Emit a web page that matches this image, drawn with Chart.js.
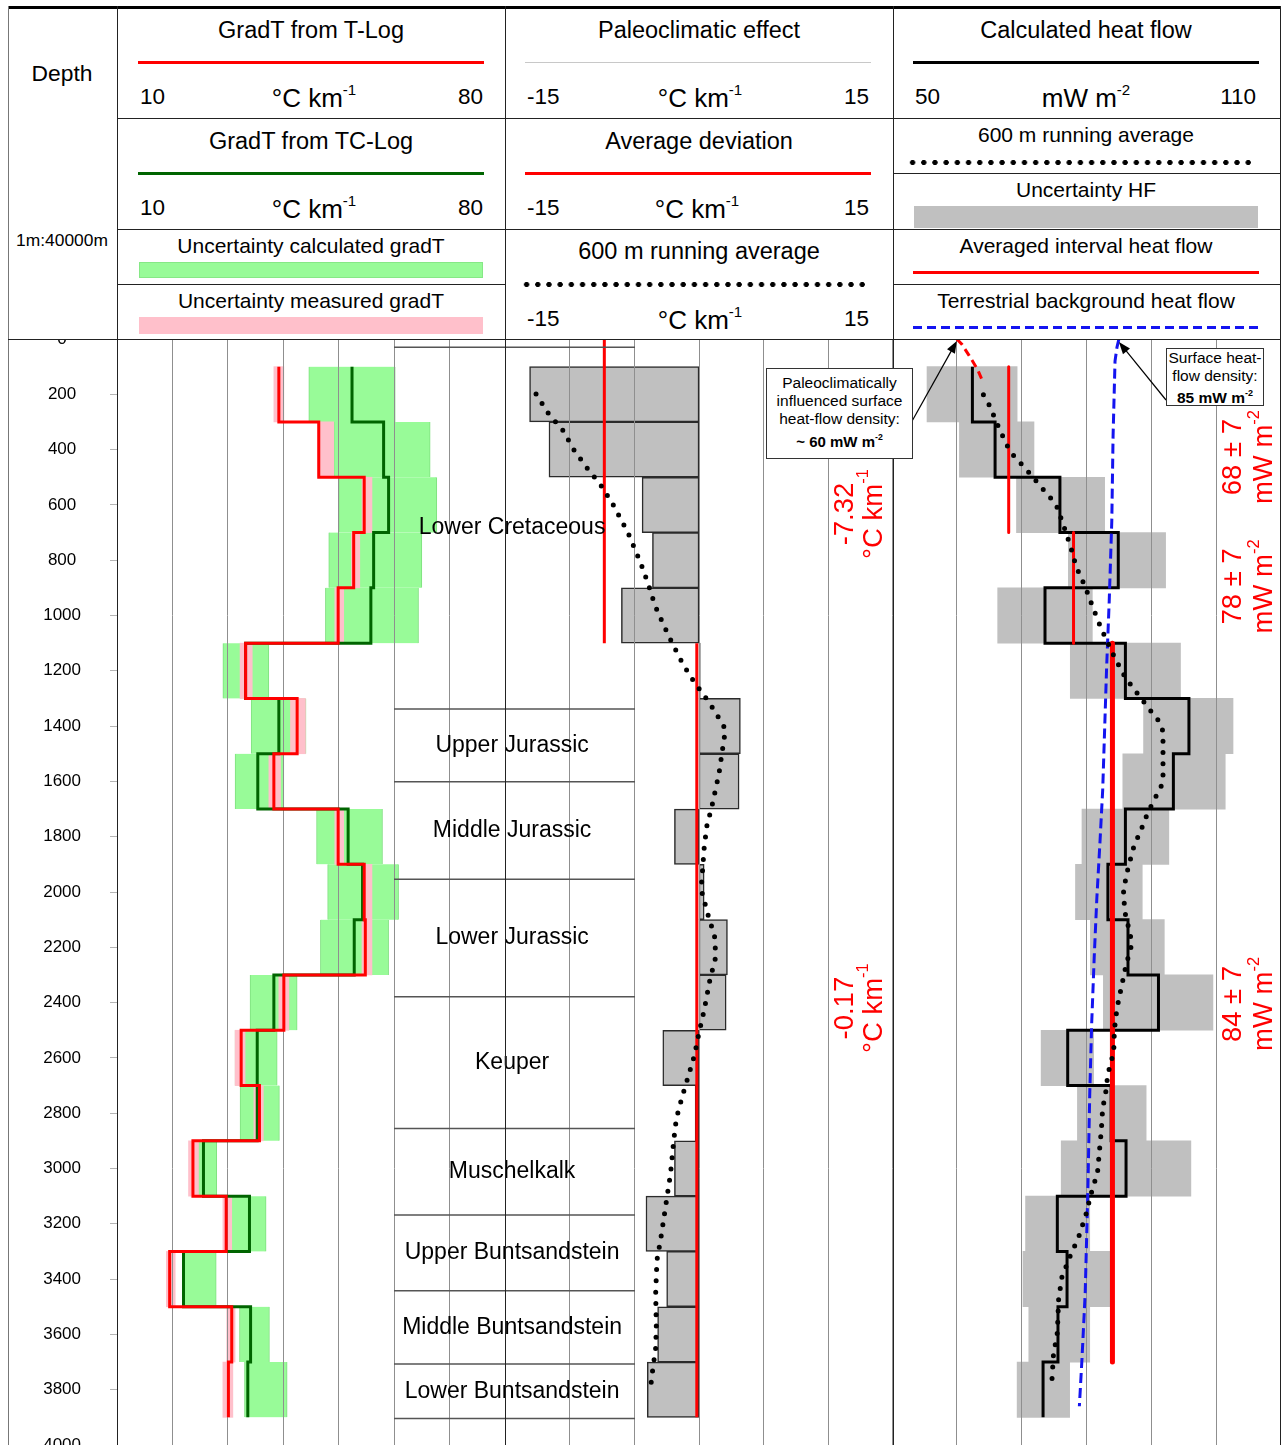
<!DOCTYPE html>
<html lang="en">
<head>
<meta charset="utf-8">
<title>Geothermal gradient and heat-flow log</title>
<script src="https://cdn.jsdelivr.net/npm/chart.js@4.4.1/dist/chart.umd.min.js"></script>
<style>
  html, body { margin: 0; padding: 0; background: #fff; overflow: hidden; }
  body { font-family: "Liberation Sans", Arial, Helvetica, sans-serif; color: #000; }
  #page { position: relative; width: 1282px; height: 1445px; overflow: hidden; background: #fff; }
  #page canvas { position: absolute; }
  .lay-bars { z-index: 1; }
  .lay-lines { z-index: 2; }
  .lay-strata { z-index: 3; }
  #head { position: absolute; left: 0; top: 0; width: 1282px; height: 339px; background: #fff; z-index: 4; }
  .rule { position: absolute; z-index: 5; }
  .txt { position: absolute; white-space: nowrap; }
  .sw { position: absolute; }
  .note { position: absolute; z-index: 6; background: #fff; border: 1px solid #333; box-sizing: border-box;
          text-align: center; white-space: nowrap; overflow: visible; }
  sup { font-size: 0.58em; line-height: 0; vertical-align: 0; position: relative; top: -0.8em; }
</style>
</head>
<body>
<div id="page">
  <canvas id="gradBars"   class="lay-bars"   width="497" height="1130" style="left:8px;top:327px"></canvas>
  <canvas id="gradLines"  class="lay-lines"  width="497" height="1186" style="left:8px;top:299px"></canvas>
  <canvas id="paleoBars"  class="lay-bars"   width="388" height="1130" style="left:505px;top:327px"></canvas>
  <canvas id="paleoLines" class="lay-lines"  width="388" height="1130" style="left:505px;top:327px"></canvas>
  <canvas id="heatBars"   class="lay-bars"   width="389" height="1130" style="left:892px;top:327px"></canvas>
  <canvas id="heatLines"  class="lay-lines"  width="389" height="1130" style="left:892px;top:327px"></canvas>
  <canvas id="strata"     class="lay-strata" width="241" height="1130" style="left:394px;top:327px"></canvas>
  <div id="head"></div>
  <div class="note" id="notePaleo"   style="left:766px;top:368px;width:147px;height:91px;"></div>
  <div class="note" id="noteSurface" style="left:1166px;top:348px;width:98px;height:58px;"></div>
</div>
<script>
// ---------------------------------------------------------------------------
// Depth intervals of the log (m)
const intervalTop  = [100, 300, 500, 700, 900, 1100, 1300, 1500, 1700, 1900, 2100, 2300, 2500, 2700, 2900, 3100, 3300, 3500, 3700];
const intervalBase = [300, 500, 700, 900, 1100, 1300, 1500, 1700, 1900, 2100, 2300, 2500, 2700, 2900, 3100, 3300, 3500, 3700, 3900];

// Temperature gradient from the T-log and its uncertainty (°C/km)
const gradTLog    = [39.2, 46.4, 54.6, 52.7, 49.9, 33.2, 42.5, 38.3, 49.9, 54.6, 54.8, 40.1, 32.4, 35.7, 23.7, 29.7, 19.5, 30.7, 30.1];
const gradTLogLo  = [38.3, 46.2, 54.2, 52.3, 49.3, 32.2, 41.3, 37.4, 49.3, 54.2, 54.2, 39.2, 31.3, 34.7, 22.9, 29.1, 18.9, 29.8, 29.1];
const gradTLogHi  = [40.1, 49.1, 56.0, 53.8, 50.9, 34.4, 44.0, 39.5, 50.9, 56.0, 56.0, 41.0, 33.1, 36.4, 24.7, 30.7, 20.5, 31.3, 30.9];

// Temperature gradient calculated from the TC-log and its uncertainty (°C/km)
const gradTCalc   = [52.4, 58.1, 59.0, 56.3, 55.8, 33.2, 39.2, 35.4, 51.7, 54.3, 52.8, 38.3, 35.3, 35.3, 25.6, 33.9, 22.0, 34.1, 33.6];
const gradTCalcLo = [44.6, 49.1, 50.0, 48.2, 47.6, 29.1, 34.2, 31.3, 46.0, 48.0, 46.7, 34.0, 31.3, 32.2, 24.7, 30.1, 22.0, 32.1, 33.0];
const gradTCalcHi = [60.2, 66.5, 67.7, 65.0, 64.4, 37.4, 44.1, 40.1, 57.9, 60.8, 59.0, 42.5, 38.9, 39.3, 28.0, 36.9, 27.9, 37.5, 40.7];

// Paleoclimatic effect per interval (°C/km)
const paleoEffect = [-13.1, -11.6, -4.4, -3.6, -6.0, 0.1, 3.2, 3.1, -1.9, 0.4, 2.2, 2.1, -2.8, -0.3, -1.9, -4.1, -2.5, -3.2, -4.0];

// Average deviation over two depth sections (°C/km)
const avgDeviation = [-7.32, -0.17];
const avgDevTop    = [0, 1100];
const avgDevBase   = [1100, 3900];

// 600 m running average of the paleoclimatic effect
const paleoAvgDepth = [199, 266, 332, 399, 464, 528, 594, 700, 811, 890, 964, 1038, 1107, 1179, 1246, 1279, 1344, 1412, 1490, 1571,
                       1689, 1763, 1841, 1969, 2005, 2083, 2159, 2234, 2316, 2427, 2509, 2590, 2662, 2740, 2819, 2897, 3018, 3096,
                       3174, 3252, 3331, 3451, 3572, 3650, 3735, 3775];
const paleoAvgValue = [-12.6, -11.7, -10.5, -9.7, -8.7, -7.6, -6.7, -5.5, -4.5, -3.9, -3.4, -2.7, -2.0, -1.2, -0.3, 0.25, 1.2, 2.05, 1.8, 1.55,
                       1.0, 0.6, 0.4, 0.2, 0.25, 0.7, 1.2, 1.3, 0.85, 0.4, 0.0, -0.35, -0.8, -1.3, -1.75, -1.95, -2.2, -2.45,
                       -2.7, -2.95, -3.25, -3.35, -3.3, -3.35, -3.6, -3.7];

// Calculated heat flow per interval and its uncertainty (mW/m²)
const heatFlow   = [62.4, 65.9, 75.9, 84.9, 73.6, 86.0, 95.8, 93.4, 86.0, 83.3, 86.4, 91.1, 77.1, 83.8, 86.1, 75.5, 77.0, 75.6, 73.3];
const heatFlowLo = [55.4, 60.4, 69.2, 77.2, 66.3, 77.5, 88.8, 85.6, 79.3, 78.3, 80.6, 82.6, 73.0, 78.6, 76.1, 70.6, 70.2, 71.1, 69.3];
const heatFlowHi = [69.3, 71.9, 82.8, 92.2, 80.9, 94.5, 102.6, 101.4, 92.7, 88.6, 92.0, 99.5, 81.1, 89.2, 96.1, 80.5, 83.9, 80.5, 77.4];

// 600 m running average of the heat flow
const heatAvgDepth = [202, 239, 311, 383, 417, 477, 538, 598, 670, 747, 823, 896, 972, 1049, 1089, 1155, 1225, 1290, 1354, 1386,
                      1420, 1498, 1580, 1619, 1655, 1692, 1728, 1764, 1836, 1914, 1993, 2071, 2149, 2188, 2264, 2342, 2421, 2499,
                      2578, 2658, 2738, 2779, 2858, 2935, 3014, 3053, 3092, 3168, 3247, 3321, 3394, 3473, 3594, 3675, 3753, 3793];
const heatAvgValue = [64.1, 65.0, 66.3, 67.7, 68.6, 70.9, 73.1, 75.3, 76.4, 77.5, 78.4, 79.8, 81.0, 82.3, 83.1, 84.4, 86.0, 88.1, 90.2, 91.3,
                      91.8, 91.8, 91.8, 91.5, 90.7, 89.9, 89.2, 88.6, 87.3, 86.4, 85.7, 85.9, 86.7, 87.0, 86.1, 85.4, 84.7, 84.3,
                      84.2, 83.3, 82.9, 82.5, 82.3, 82.0, 81.7, 81.2, 80.7, 79.9, 78.8, 77.4, 76.2, 75.7, 75.5, 74.9, 74.7, 74.6];

// Averaged interval heat flow (mW/m²) with uncertainty and depth range
const hfAvg     = [68, 78, 84];
const hfAvgUnc  = [7, 7, 7];
const hfAvgTop  = [100, 700, 1100];
const hfAvgBase = [700, 1100, 3700];

// Surface heat-flow densities: paleoclimatically influenced, terrestrial background (mW/m²)
const surfaceHeatFlow = [60, 85];

// Terrestrial background heat flow with depth
const bgDepth = [0, 30, 80, 350, 660, 950, 1190, 1630, 1810, 2020, 2230, 2475, 2730, 3090, 3450, 3690, 3860];
const bgValue = [85.0, 84.7, 84.4, 84.1, 83.9, 83.5, 83.1, 82.5, 82.1, 81.6, 81.2, 80.8, 80.5, 80.2, 79.8, 79.3, 78.9];

// Paleoclimatically influenced heat flow near the surface
const paleoSurfDepth = [0, 20, 60, 110, 160];
const paleoSurfValue = [60.0, 60.8, 61.9, 63.2, 64.1];

// Stratigraphy
const strataNames = ['Lower Cretaceous', 'Upper Jurassic', 'Middle Jurassic', 'Lower Jurassic', 'Keuper',
                     'Muschelkalk', 'Upper Buntsandstein', 'Middle Buntsandstein', 'Lower Buntsandstein'];
const strataTop  = [30, 1338, 1601, 1954, 2379, 2855, 3168, 3442, 3707];
const strataBase = [1338, 1601, 1954, 2379, 2855, 3168, 3442, 3707, 3904];

// ---------------------------------------------------------------------------
const FONT = '"Liberation Sans", Arial, Helvetica, sans-serif';
Chart.defaults.font.family = FONT;
Chart.defaults.color = '#000';

const midDepth  = i => (intervalTop[i] + intervalBase[i]) / 2;
const pairs     = (vals, depths) => vals.map((v, i) => ({ x: v, y: depths[i] }));
const stepLine  = vals => vals.flatMap((v, i) => [{ x: v, y: intervalTop[i] }, { x: v, y: intervalBase[i] }]);
const rangeBars = (lo, hi) => lo.map((l, i) => ({ x: [l, hi[i]], y: midDepth(i) }));

const PAD_V = 12;      // vertical padding of plain tracks
const PAD_AXIS = 40;   // vertical padding of the track carrying the depth labels

function depthScale(extra) {
  return Object.assign({
    type: 'linear', min: 0, max: 4000, reverse: true, offset: false, display: false,
    ticks: { stepSize: 200 }, grid: { offset: false }
  }, extra || {});
}

function barChart(id, xMin, xMax, datasets, padLeft) {
  return new Chart(document.getElementById(id), {
    type: 'bar',
    data: { datasets },
    options: {
      responsive: false, animation: false, devicePixelRatio: 1, indexAxis: 'y',
      layout: { padding: { top: PAD_V, bottom: PAD_V, left: padLeft || 0, right: 0 } },
      plugins: { legend: { display: false }, tooltip: { enabled: false } },
      scales: {
        x: { type: 'linear', min: xMin, max: xMax, display: false },
        y: depthScale()
      }
    }
  });
}

function lineChart(id, xMin, xMax, xStep, datasets, plugins, yAxis, padV) {
  const pv = padV || PAD_V;
  return new Chart(document.getElementById(id), {
    type: 'scatter',
    data: { datasets },
    options: {
      responsive: false, animation: false, devicePixelRatio: 1,
      layout: { padding: { top: pv, bottom: pv, left: 0, right: 0 } },
      plugins: { legend: { display: false }, tooltip: { enabled: false } },
      elements: { point: { radius: 0, hoverRadius: 0 }, line: { tension: 0 } },
      scales: {
        x: {
          type: 'linear', position: 'bottom', min: xMin, max: xMax,
          ticks: { display: false, stepSize: xStep },
          grid: { color: '#8f8f8f', lineWidth: 1, drawTicks: false },
          border: { display: false }
        },
        y: yAxis || depthScale()
      }
    },
    plugins: plugins || []
  });
}

const bars = (data, color, extra) => Object.assign({
  data, backgroundColor: color, grouped: false, categoryPercentage: 1, barPercentage: 1,
  borderWidth: 0, borderSkipped: false
}, extra || {});

const line = (data, color, width, extra) => Object.assign({
  data, showLine: true, borderColor: color, backgroundColor: color, borderWidth: width,
  pointRadius: 0, fill: false, borderJoinStyle: 'miter'
}, extra || {});

const dots = (data, extra) => line(data, '#000', 5, Object.assign({
  borderDash: [0, 11.3], borderCapStyle: 'round', borderJoinStyle: 'round'
}, extra || {}));

// Rotated multi-line text; each line is a list of parts, a part may be superscript
function drawRotatedBlock(ctx, cx, cy, lines, size, gap, color) {
  ctx.save();
  ctx.translate(cx, cy);
  ctx.rotate(-Math.PI / 2);
  ctx.fillStyle = color;
  ctx.textBaseline = 'middle';
  ctx.textAlign = 'left';
  const n = lines.length;
  lines.forEach((parts, k) => {
    const off = (k - (n - 1) / 2) * gap;
    let w = 0;
    const widths = parts.map(p => {
      ctx.font = `${p.sup ? size * 0.6 : size}px ${FONT}`;
      const pw = ctx.measureText(p.t).width;
      w += pw;
      return pw;
    });
    let xx = -w / 2;
    parts.forEach((p, j) => {
      ctx.font = `${p.sup ? size * 0.6 : size}px ${FONT}`;
      ctx.fillText(p.t, xx, off - (p.sup ? size * 0.38 : 0));
      xx += widths[j];
    });
  });
  ctx.restore();
}

function arrow(ctx, x0, y0, x1, y1) {
  const a = Math.atan2(y1 - y0, x1 - x0), L = 12, W = 4.5;
  ctx.save();
  ctx.strokeStyle = '#000'; ctx.fillStyle = '#000'; ctx.lineWidth = 1.2;
  ctx.beginPath();
  ctx.moveTo(x0, y0);
  ctx.lineTo(x1 - L * 0.8 * Math.cos(a), y1 - L * 0.8 * Math.sin(a));
  ctx.stroke();
  ctx.beginPath();
  ctx.moveTo(x1, y1);
  ctx.lineTo(x1 - L * Math.cos(a) + W * Math.sin(a), y1 - L * Math.sin(a) - W * Math.cos(a));
  ctx.lineTo(x1 - L * Math.cos(a) - W * Math.sin(a), y1 - L * Math.sin(a) + W * Math.cos(a));
  ctx.closePath();
  ctx.fill();
  ctx.restore();
}

// ---------------------------------------------------------------------------
// Track 1: temperature gradients
barChart('gradBars', 10, 80, [
  bars(rangeBars(gradTCalcLo, gradTCalcHi), '#98fb98', {
    order: 2, borderColor: '#7fe07f', borderWidth: { left: 1, right: 1, top: 0, bottom: 0 }
  }),
  bars(rangeBars(gradTLogLo, gradTLogHi), '#ffc0cb', { order: 1 })
], 109);

lineChart('gradLines', 10, 80, 10, [
  line(stepLine(gradTCalc), '#006400', 3, { order: 2 }),
  line(stepLine(gradTLog), '#ff0000', 3, { order: 1 })
], [], depthScale({
  display: true, position: 'left',
  ticks: { stepSize: 200, autoSkip: false, font: { size: 17 }, color: '#000', padding: 29,
           crossAlign: 'center', callback: v => String(v) },
  grid: { drawOnChartArea: false, drawTicks: true, tickLength: 7, color: '#b5b5b5', offset: false },
  border: { display: false },
  afterFit: s => { s.width = 109; }
}), PAD_AXIS);

// Track 2: paleoclimatic effect
barChart('paleoBars', -15, 15, [
  bars(paleoEffect.map((v, i) => ({ x: [0, v], y: midDepth(i) })), '#c0c0c0', {
    borderColor: '#2b2b2b', borderWidth: 1.5
  })
]);

const paleoLabels = {
  id: 'paleoLabels',
  afterDatasetsDraw(chart) {
    const { ctx, scales: { x, y } } = chart;
    const labelDepth = [633, 2420];
    avgDeviation.forEach((v, i) => {
      drawRotatedBlock(ctx, x.getPixelForValue(12.45), y.getPixelForValue(labelDepth[i]),
        [[{ t: v.toFixed(2) }], [{ t: '°C km' }, { t: '-1', sup: true }]], 27.5, 28.5, '#ff0000');
    });
  }
};

lineChart('paleoLines', -15, 15, 5, [
  ...avgDeviation.map((v, i) => line([{ x: v, y: avgDevTop[i] }, { x: v, y: avgDevBase[i] }], '#ff0000', 3, { order: 2 })),
  dots(pairs(paleoAvgValue, paleoAvgDepth), { order: 1 })
], [paleoLabels]);

// Track 3: heat flow
barChart('heatBars', 50, 110, [
  bars(rangeBars(heatFlowLo, heatFlowHi), '#c0c0c0')
]);

const heatLabels = {
  id: 'heatLabels',
  afterDatasetsDraw(chart) {
    const { ctx, scales: { x, y } } = chart;
    const labelDepth = [427, 895, 2405];
    hfAvg.forEach((v, i) => {
      drawRotatedBlock(ctx, x.getPixelForValue(105.1), y.getPixelForValue(labelDepth[i]),
        [[{ t: `${v} ± ${hfAvgUnc[i]}` }], [{ t: 'mW m' }, { t: '-2', sup: true }]], 27.5, 31, '#ff0000');
    });
    // arrows from the two notes to the surface values
    const ox = chart.canvas.offsetLeft, oy = chart.canvas.offsetTop;
    arrow(ctx, 911 - ox, 423 - oy, x.getPixelForValue(surfaceHeatFlow[0]), y.getPixelForValue(0) + 2);
    arrow(ctx, 1166 - ox, 400 - oy, x.getPixelForValue(surfaceHeatFlow[1]), y.getPixelForValue(0) + 3);
  }
};

lineChart('heatLines', 50, 110, 10, [
  line(stepLine(heatFlow), '#000', 3, { order: 5 }),
  ...hfAvg.map((v, i) => line([{ x: v, y: hfAvgTop[i] }, { x: v, y: hfAvgBase[i] }], '#ff0000',
      i === hfAvg.length - 1 ? 5 : 3, { order: 4, borderCapStyle: 'round' })),
  line(pairs(bgValue, bgDepth), '#1414f0', 3, { order: 3, borderDash: [10, 5] }),
  line(pairs(paleoSurfValue, paleoSurfDepth), '#ff0000', 3, { order: 2, borderDash: [8, 5] }),
  dots(pairs(heatAvgValue, heatAvgDepth), { order: 1 })
], [heatLabels]);

// Stratigraphic column
const strataLabels = {
  id: 'strataLabels',
  afterDatasetsDraw(chart) {
    const { ctx, scales: { x, y } } = chart;
    ctx.save();
    ctx.fillStyle = '#000';
    ctx.font = `23px ${FONT}`;
    ctx.textAlign = 'center';
    ctx.textBaseline = 'middle';
    strataNames.forEach((name, i) => {
      ctx.fillText(name, x.getPixelForValue(0.49), y.getPixelForValue((strataTop[i] + strataBase[i]) / 2));
    });
    ctx.restore();
  }
};

new Chart(document.getElementById('strata'), {
  type: 'scatter',
  data: {
    datasets: [...strataTop, strataBase[strataBase.length - 1]].map(b =>
      line([{ x: 0, y: b }, { x: 1, y: b }], '#555', 1.5))
  },
  options: {
    responsive: false, animation: false, devicePixelRatio: 1,
    layout: { padding: { top: PAD_V, bottom: PAD_V, left: 0, right: 0 } },
    plugins: { legend: { display: false }, tooltip: { enabled: false } },
    scales: { x: { type: 'linear', min: 0, max: 1, display: false }, y: depthScale() }
  },
  plugins: [strataLabels]
});

// ---------------------------------------------------------------------------
// Header with track legends
const page = document.getElementById('page');
const head = document.getElementById('head');

function txt(parent, html, x, cy, size, align) {
  const d = document.createElement('div');
  d.className = 'txt';
  d.innerHTML = html;
  d.style.fontSize = size + 'px';
  d.style.lineHeight = Math.round(size * 1.2) + 'px';
  d.style.top = (cy - size * 0.6) + 'px';
  if (align === 'left') {
    d.style.left = x + 'px';
  } else if (align === 'right') {
    d.style.left = (x - 400) + 'px'; d.style.width = '400px'; d.style.textAlign = 'right';
  } else {
    d.style.left = (x - 200) + 'px'; d.style.width = '400px'; d.style.textAlign = 'center';
  }
  parent.appendChild(d);
}
function sw(parent, left, top, width, height, css) {
  const d = document.createElement('div');
  d.className = 'sw';
  d.style.cssText = `left:${left}px;top:${top}px;width:${width}px;height:${height}px;` + css;
  parent.appendChild(d);
}
function dotRow(parent, x0, x1, cy) {
  const step = 11.2;
  const n = Math.round((x1 - x0) / step) + 1;
  sw(parent, x0 - step / 2, cy - 3.5, n * step, 7,
     `background-image:radial-gradient(circle at center,#000 2.3px,rgba(0,0,0,0) 2.9px);background-size:${step}px 7px;background-repeat:repeat-x;`);
}
function rule(left, top, width, height, color) {
  const d = document.createElement('div');
  d.className = 'rule';
  d.style.cssText = `left:${left}px;top:${top}px;width:${width}px;height:${height}px;background:${color};`;
  page.appendChild(d);
}

const UNIT_GRAD = '°C km<sup>-1</sup>';
const UNIT_HF = 'mW m<sup>-2</sup>';
const T1 = 23.5;  // main titles
const T2 = 21;    // secondary titles
const NUM = 22.5; // scale limits
const UNIT = 26;  // units

// scale row: left limit, unit, right limit
function scaleRow(x0, cx, x1, cy, lo, unit, hi) {
  txt(head, lo, x0, cy, NUM, 'left');
  txt(head, unit, cx, cy + 2.5, UNIT, 'center');
  txt(head, hi, x1, cy, NUM, 'right');
}

// depth column
txt(head, 'Depth', 62, 74, 22.8, 'center');
txt(head, '1m:40000m', 62, 240, 17.4, 'center');

// track 1
txt(head, 'GradT from T-Log', 311, 30, T1, 'center');
sw(head, 138, 61, 346, 3, 'background:#ff0000;');
scaleRow(140, 314, 483, 96, '10', UNIT_GRAD, '80');
txt(head, 'GradT from TC-Log', 311, 141, T1, 'center');
sw(head, 138, 172, 346, 3, 'background:#006400;');
scaleRow(140, 314, 483, 207, '10', UNIT_GRAD, '80');
txt(head, 'Uncertainty calculated gradT', 311, 246, T2, 'center');
sw(head, 139, 262, 344, 16, 'background:#98fb98;box-shadow:inset 0 0 0 1px #86e886;');
txt(head, 'Uncertainty measured gradT', 311, 301, T2, 'center');
sw(head, 139, 317, 344, 17, 'background:#ffc0cb;');

// track 2
txt(head, 'Paleoclimatic effect', 699, 30, T1, 'center');
sw(head, 525, 62, 346, 1, 'background:#c8c8c8;');
scaleRow(527, 700, 869, 96, '-15', UNIT_GRAD, '15');
txt(head, 'Average deviation', 699, 141, T1, 'center');
sw(head, 525, 172, 346, 3, 'background:#ff0000;');
scaleRow(527, 697, 869, 207, '-15', UNIT_GRAD, '15');
txt(head, '600 m running average', 699, 251, T1, 'center');
dotRow(head, 527, 862, 284);
scaleRow(527, 700, 869, 318, '-15', UNIT_GRAD, '15');

// track 3
txt(head, 'Calculated heat flow', 1086, 30, T1, 'center');
sw(head, 913, 61, 346, 3, 'background:#000;');
scaleRow(915, 1086, 1256, 96, '50', UNIT_HF, '110');
txt(head, '600 m running average', 1086, 135, T2, 'center');
dotRow(head, 913, 1250, 162);
txt(head, 'Uncertainty HF', 1086, 190, T2, 'center');
sw(head, 914, 206, 344, 22, 'background:#c0c0c0;');
txt(head, 'Averaged interval heat flow', 1086, 246, T2, 'center');
sw(head, 913, 271, 346, 3, 'background:#ff0000;');
txt(head, 'Terrestrial background heat flow', 1086, 301, T2, 'center');
sw(head, 913, 326, 345, 3, 'background-image:repeating-linear-gradient(90deg,#1414f0 0 9px,rgba(0,0,0,0) 9px 14px);');

// frame and track separators
rule(8, 6, 1273, 3, '#000');
rule(8, 6, 1, 1439, '#777');
rule(117, 6, 1, 1439, '#222');
rule(505, 6, 1, 1439, '#222');
rule(893, 6, 1, 1439, '#222');
rule(1280, 6, 1, 1439, '#222');
rule(117, 118, 1164, 1, '#222');
rule(117, 229, 1164, 1, '#222');
rule(117, 284, 388, 1, '#222');
rule(893, 284, 388, 1, '#222');
rule(893, 173, 388, 1, '#222');
rule(8, 339, 1273, 1, '#222');

// notes on the surface heat-flow densities
document.getElementById('notePaleo').innerHTML =
  '<div style="font-size:15.5px;line-height:18px;padding-top:5px">Paleoclimatically<br>influenced surface<br>heat-flow density:</div>' +
  `<div style="font-size:15px;font-weight:bold;line-height:18px;margin-top:5px">~ ${surfaceHeatFlow[0]} mW m<sup>-2</sup></div>`;
document.getElementById('noteSurface').innerHTML =
  '<div style="font-size:15.5px;line-height:17.5px">Surface heat-<br>flow density:</div>' +
  `<div style="font-size:15.5px;font-weight:bold;line-height:17.5px;margin-top:5px">${surfaceHeatFlow[1]} mW m<sup>-2</sup></div>`;
</script>
</body>
</html>
